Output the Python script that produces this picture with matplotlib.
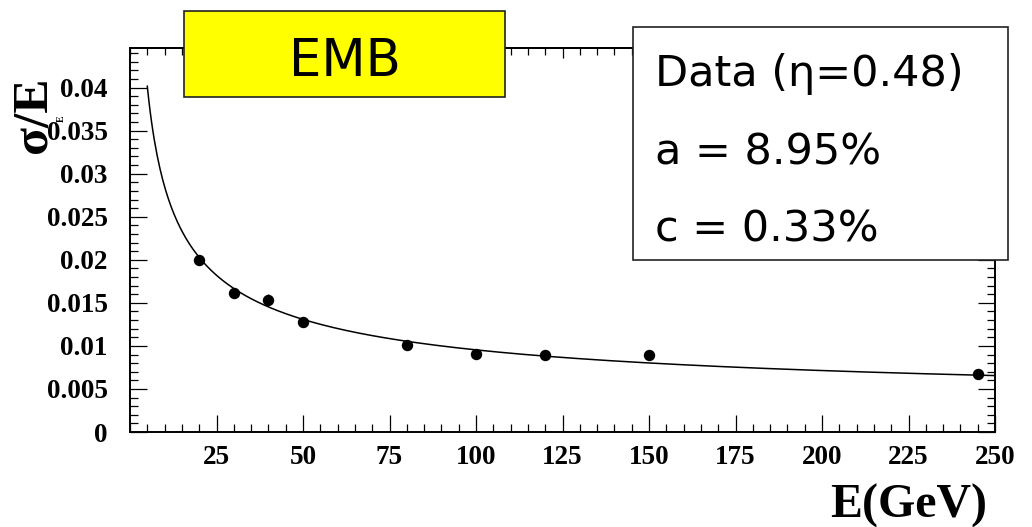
import numpy as np
import matplotlib
matplotlib.use("Agg")
import matplotlib.pyplot as plt
from matplotlib.patches import Rectangle
from matplotlib.ticker import MultipleLocator, FixedLocator, FixedFormatter

# Measured energy resolution, EM barrel
energies = [20, 30, 40, 50, 80, 100, 120, 150, 245]
resolution = [0.0200, 0.0162, 0.0153, 0.0128, 0.0101, 0.0091, 0.0090, 0.0089, 0.0067]
res_err = [0.0003, 0.0003, 0.0007, 0.0003, 0.0002, 0.0002, 0.0002, 0.0002, 0.0003]

# Fit parameters: sigma/E = sqrt(a^2/E + c^2)
stoch_term = 0.0895
const_term = 0.0033

x_ticks = [25, 50, 75, 100, 125, 150, 175, 200, 225, 250]
x_tick_labels = ["25", "50", "75", "100", "125", "150", "175", "200", "225", "250"]
y_ticks = [0, 0.005, 0.01, 0.015, 0.02, 0.025, 0.03, 0.035, 0.04]
y_tick_labels = ["0", "0.005", "0.01", "0.015", "0.02", "0.025", "0.03", "0.035", "0.04"]

W, H = 1032, 527
fig = plt.figure(figsize=(W / 100, H / 100), dpi=100)


def fx(px):
    return px / W


def fy(py):
    return 1 - py / H


ax = fig.add_axes([fx(130), fy(432), fx(995) - fx(130), fy(48) - fy(432)])
ax.set_xlim(0, 250)
ax.set_ylim(0, 0.0446)

serif_bold = dict(family="Liberation Serif", weight="bold")

# fit curve
e_curve = np.linspace(5, 250, 600)
ax.plot(e_curve, np.sqrt(stoch_term ** 2 / e_curve + const_term ** 2),
        color="black", lw=1.1, zorder=2)

# data points
ax.errorbar(energies, resolution, yerr=res_err, fmt="o", color="black",
            ms=7.2, elinewidth=1.0, capsize=0, zorder=3)

for s in ax.spines.values():
    s.set_linewidth(1.4)

ax.xaxis.set_major_locator(FixedLocator(x_ticks))
ax.xaxis.set_major_formatter(FixedFormatter(x_tick_labels))
ax.xaxis.set_minor_locator(MultipleLocator(5))
ax.yaxis.set_major_locator(FixedLocator(y_ticks))
ax.yaxis.set_major_formatter(FixedFormatter(y_tick_labels))
ax.yaxis.set_minor_locator(MultipleLocator(0.001))

ax.tick_params(axis="both", which="both", direction="in", width=0.9, color="black")
ax.tick_params(axis="y", which="both", left=True, right=True)
ax.tick_params(axis="x", which="both", bottom=True, top=False)
ax.tick_params(axis="both", which="major", length=12.2)
ax.tick_params(axis="both", which="minor", length=5.8)
ax.tick_params(axis="y", which="major", pad=16)
ax.tick_params(axis="x", which="major", pad=9.5)
for lab in ax.get_xticklabels() + ax.get_yticklabels():
    lab.set_fontfamily("Liberation Serif")
    lab.set_fontweight("bold")
    lab.set_fontsize(19.5)

# top axis with shorter ticks
top = ax.secondary_xaxis("top")
top.xaxis.set_major_locator(FixedLocator(x_ticks))
top.xaxis.set_minor_locator(MultipleLocator(5))
top.tick_params(axis="x", which="both", direction="in", width=0.9, labeltop=False)
top.tick_params(axis="x", which="major", length=7.5)
top.tick_params(axis="x", which="minor", length=5.0)
top.spines["top"].set_linewidth(1.4)

# axis titles
fig.text(fx(987), fy(518), "E(GeV)", ha="right", va="baseline",
         fontsize=34.5, **serif_bold)
fig.text(fx(34), fy(115), "σ/E", ha="center", va="center", rotation=90,
         fontsize=37, **serif_bold)
fig.text(fx(61), fy(119), "E", ha="center", va="center", rotation=90,
         fontsize=7, **serif_bold)

# detector label box
fig.add_artist(Rectangle((fx(184), fy(97)), fx(505) - fx(184), fy(11) - fy(97),
                         transform=fig.transFigure, facecolor="#ffff00",
                         edgecolor="#222222", lw=1.2, zorder=5))
fig.text(fx(345), fy(76), "EMB", ha="center", va="baseline", fontsize=37,
         family="DejaVu Sans", zorder=6)

# fit result box
fig.add_artist(Rectangle((fx(633), fy(260)), fx(1008) - fx(633), fy(27) - fy(260),
                         transform=fig.transFigure, facecolor="white",
                         edgecolor="#222222", lw=1.2, zorder=5))
info_lines = ["Data (η=0.48)", f"a = {stoch_term * 100:.2f}%", f"c = {const_term * 100:.2f}%"]
for line, base in zip(info_lines, [86, 164, 241]):
    fig.text(fx(655), fy(base), line, ha="left", va="baseline", fontsize=31,
             family="DejaVu Sans", zorder=6)

fig.savefig("out.png", dpi=100)
